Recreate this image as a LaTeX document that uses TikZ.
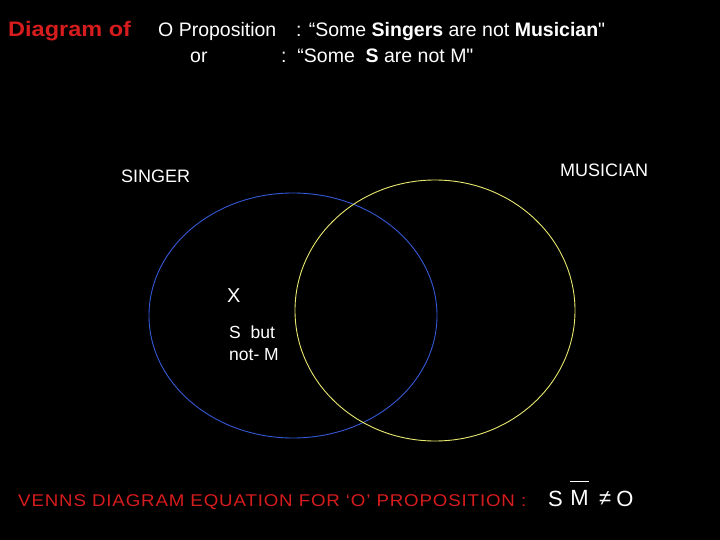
\documentclass[tikz,border=0pt]{standalone}
\usepackage{xcolor}
\usepackage{fontspec}
\setmainfont{Liberation Sans}[Ligatures=TeXOff]
\usetikzlibrary{positioning}

\definecolor{headred}{RGB}{214,28,28}
\definecolor{singerblue}{RGB}{52,88,214}
\definecolor{musicyellow}{RGB}{232,232,110}

\tikzset{
  txt/.style={text=white, inner sep=0pt, anchor=base west},
  redtxt/.style={text=headred, inner sep=0pt, anchor=base west},
  eqtxt/.style={text=white, inner sep=0pt, font=\fontsize{22}{24}\selectfont}
}

\begin{document}
\begin{tikzpicture}[x=1pt, y=-1pt]
    % black slide
    \fill[black] (0,0) rectangle (720,540);
    \useasboundingbox (0,0) rectangle (720,540);

    % the two sets
    \draw[singerblue, line width=0.9pt] (293,315.5) ellipse [x radius=144, y radius=122.5];
    \draw[musicyellow, line width=0.9pt] (435,310.5) ellipse [x radius=140, y radius=130.5];

    % heading
    \node[redtxt, font=\fontsize{21}{24}\selectfont\bfseries\addfontfeature{FakeStretch=1.12}] (head) at (8,37) {Diagram of};
    \node[txt, font=\fontsize{19.5}{22}\selectfont] (prop) at (158,37) {O Proposition};
    \node[txt, font=\fontsize{19.5}{22}\selectfont] (stmt) at (296,37) {: “Some \textbf{Singers} are not \textbf{Musician}"};
    \node[txt, font=\fontsize{19.5}{22}\selectfont] (or) at (190,63) {or};
    \node[txt, font=\fontsize{19.5}{22}\selectfont] (short) at (281,63) {:\ \ “Some\ \ \textbf{S} are not M"};

    % set names
    \node[txt, font=\fontsize{18}{20}\selectfont] (singer) at (121,183) {SINGER};
    \node[txt, font=\fontsize{18}{20}\selectfont] (musician) at (560,177) {MUSICIAN};

    % the member in S outside M
    \node[txt, font=\fontsize{20}{22}\selectfont] (mark) at (227,302) {X};
    \node[txt, font=\fontsize{17.5}{19}\selectfont] (sbut) at (229,338) {S\ \ but};
    \node[txt, font=\fontsize{17.5}{19}\selectfont] (notm) at (229,360) {not- M};

    % equation
    \node[redtxt, font=\fontsize{17}{19}\selectfont\addfontfeature{FakeStretch=1.1,LetterSpace=5}] (eqhead) at (18,506) {VENNS DIAGRAM EQUATION FOR ‘O’ PROPOSITION :};
    \node[eqtxt, anchor=base west] (eqS) at (548,506) {S};
    \node[eqtxt, right=7pt of eqS] (eqM) {M};
    \node[eqtxt, right=10pt of eqM] (eqNe) {≠};
    \node[eqtxt, right=5pt of eqNe] (eqO) {O};
    \draw[white, line width=0.8pt] ([yshift=9pt]eqM.north west) -- ([yshift=9pt]eqM.north east);
\end{tikzpicture}
\end{document}
